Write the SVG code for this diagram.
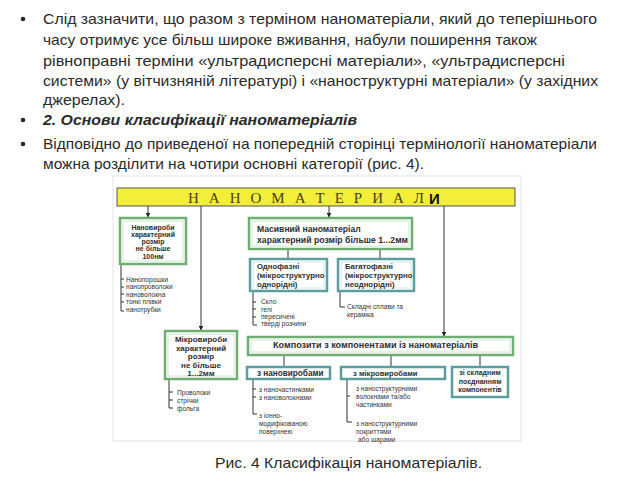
<svg xmlns="http://www.w3.org/2000/svg" width="640" height="480" viewBox="0 0 640 480">
<defs>
<marker id="ah" viewBox="0 0 10 10" refX="9" refY="5" markerWidth="5" markerHeight="5" orient="auto" markerUnits="userSpaceOnUse">
<path d="M0,0 L10,5 L0,10 z" fill="#222"/>
</marker>
<style>
.p{font-family:"Liberation Sans",Arial,sans-serif;font-size:14.5px;fill:#2a2a2a}
.b{font-family:"Liberation Sans",Arial,sans-serif;font-size:14.5px;font-weight:bold;font-style:italic;fill:#2a2a2a}
.g{fill:#ffffff;stroke:#6fae72;stroke-width:2.5}
.gi{fill:none;stroke:#cfe6cf;stroke-width:1}
.t{fill:#ffffff;stroke:#5a9ea0;stroke-width:2.5}
.ti{fill:none;stroke:#d2eaea;stroke-width:1}
.bx{font-family:"Liberation Sans",Arial,sans-serif;font-weight:bold;fill:#2e2e2e}
.sm{font-family:"Liberation Sans",Arial,sans-serif;font-size:6.6px;fill:#333}
.ln{stroke:#333;stroke-width:1;fill:none}
</style>
</defs>
<rect width="640" height="480" fill="#ffffff"/>

<g id="bullets" fill="#2a2a2a">
<circle cx="23" cy="19" r="2.3"/>
<circle cx="23" cy="120" r="2.3"/>
<circle cx="23" cy="144" r="2.3"/>
</g>
<g id="paragraph">
<text class="p" x="43" y="24" textLength="554" lengthAdjust="spacingAndGlyphs">Слід зазначити, що разом з терміном наноматеріали, який до теперішнього</text>
<text class="p" x="43" y="45" textLength="494" lengthAdjust="spacingAndGlyphs">часу отримує усе більш широке вживання, набули поширення також</text>
<text class="p" x="43" y="66" textLength="522" lengthAdjust="spacingAndGlyphs">рівноправні терміни «ультрадисперсні матеріали», «ультрадисперсні</text>
<text class="p" x="43" y="86" textLength="555" lengthAdjust="spacingAndGlyphs">системи» (у вітчизняній літературі) і «наноструктурні матеріали» (у західних</text>
<text class="p" x="43" y="105" textLength="82" lengthAdjust="spacingAndGlyphs">джерелах).</text>
<text class="b" x="43" y="125" textLength="314" lengthAdjust="spacingAndGlyphs">2. Основи класифікації наноматеріалів</text>
<text class="p" x="43" y="149" textLength="554" lengthAdjust="spacingAndGlyphs">Відповідно до приведеної на попередній сторінці термінології наноматеріали</text>
<text class="p" x="43" y="169" textLength="381" lengthAdjust="spacingAndGlyphs">можна розділити на чотири основні категорії (рис. 4).</text>
</g>

<rect id="frame" x="113" y="176" width="408" height="265" fill="none" stroke="#e4e4e4" stroke-width="1"/>

<g id="banner">
<rect x="117" y="188" width="398" height="18" fill="#f2ee3a" stroke="#555" stroke-width="1"/>
<text x="188" y="203" font-family="'Liberation Serif','Times New Roman',serif" font-size="15" fill="#4a4020" textLength="236" lengthAdjust="spacing">Н А Н О М А Т Е Р И А Л</text>
<text x="429" y="204" font-family="'Liberation Sans',Arial,sans-serif" font-size="15" font-weight="bold" fill="#111">И</text>
</g>

<g id="connectors">
<line class="ln" x1="148" y1="206" x2="148" y2="217" marker-end="url(#ah)"/>
<line class="ln" x1="201" y1="206" x2="201" y2="330" marker-end="url(#ah)"/>
<line class="ln" x1="329" y1="206" x2="329" y2="217" marker-end="url(#ah)"/>
<line class="ln" x1="444" y1="206" x2="444" y2="336" marker-end="url(#ah)"/>
<line class="ln" x1="288" y1="249" x2="288" y2="259"/>
<line class="ln" x1="380" y1="249" x2="380" y2="259"/>
<line class="ln" x1="284" y1="355" x2="284" y2="367"/>
<line class="ln" x1="391" y1="355" x2="391" y2="367"/>
<line class="ln" x1="480" y1="355" x2="480" y2="367"/>
<path class="ln" d="M121,264 V311 H124 M121,279 H124 M121,287 H124 M121,294 H124 M121,302 H124"/>
<path class="ln" d="M253,291 V325 H257 M253,302 H256 M253,309 H256 M253,317 H256"/>
<path class="ln" d="M340,291 V307 H345"/>
<path class="ln" d="M169,379 V408 H173 M169,392 H173 M169,400 H173"/>
<path class="ln" d="M253,379 V414 H257 M253,389 H256 M253,397 H256"/>
<path class="ln" d="M347,379 V422 H352 M347,396 H350"/>
</g>

<g id="nanovyroby">
<rect class="g" x="120" y="218" width="66" height="46"/>
<rect class="gi" x="123" y="221" width="60" height="40"/>
<text class="bx" font-size="7" text-anchor="middle" x="153"><tspan x="153" y="229.5">Нановироби</tspan><tspan x="153" y="236.5">характерний</tspan><tspan x="153" y="243.5">розмір</tspan><tspan x="153" y="250.5">не більше</tspan><tspan x="153" y="258.5">100нм</tspan></text>
</g>
<g id="nanovyroby-list">
<text class="sm"><tspan x="126" y="281.5">Нанопорошки</tspan><tspan x="126" y="289">нанопроволоки</tspan><tspan x="126" y="296.5">нановолокна</tspan><tspan x="126" y="304">тонкі плівки</tspan><tspan x="126" y="311.5">нанотрубки</tspan></text>
</g>

<g id="masyvnyi">
<rect class="g" x="249" y="218" width="163" height="31"/>
<rect class="gi" x="252" y="221" width="157" height="25"/>
<text class="bx" font-size="8.6"><tspan x="257" y="232">Масивний наноматеріал</tspan><tspan x="257" y="242.5" textLength="151" lengthAdjust="spacingAndGlyphs">характерний розмір більше 1...2мм</tspan></text>
</g>

<g id="odnofazni">
<rect class="t" x="250" y="259" width="77" height="32"/>
<rect class="ti" x="253" y="262" width="71" height="26"/>
<text class="bx" font-size="7.8" font-weight="normal"><tspan x="257" y="269">Однофазні</tspan><tspan x="257" y="278">(мікроструктурно</tspan><tspan x="257" y="287">однорідні)</tspan></text>
</g>
<g id="odnofazni-list">
<text class="sm"><tspan x="261" y="304">Скло</tspan><tspan x="261" y="311.5">гелі</tspan><tspan x="261" y="318.5">пересичені</tspan><tspan x="261" y="326">тверді розчини</tspan></text>
</g>

<g id="bahatofazni">
<rect class="t" x="338" y="259" width="76" height="32"/>
<rect class="ti" x="341" y="262" width="70" height="26"/>
<text class="bx" font-size="7.8" font-weight="normal"><tspan x="345" y="269">Багатофазні</tspan><tspan x="345" y="278">(мікроструктурно</tspan><tspan x="345" y="287">неоднорідні)</tspan></text>
</g>
<g id="bahatofazni-list">
<text class="sm"><tspan x="347" y="309">Складні сплави та</tspan><tspan x="347" y="316.5">кераміка</tspan></text>
</g>

<g id="mikrovyroby">
<rect class="g" x="165" y="331" width="72" height="48"/>
<rect class="gi" x="168" y="334" width="66" height="42"/>
<text class="bx" font-size="8" text-anchor="middle"><tspan x="201" y="342">Мікровироби</tspan><tspan x="201" y="350.5">характерний</tspan><tspan x="201" y="359">розмір</tspan><tspan x="201" y="367.5">не більше</tspan><tspan x="201" y="376">1...2мм</tspan></text>
</g>
<g id="mikrovyroby-list">
<text class="sm"><tspan x="177" y="394.5">Проволоки</tspan><tspan x="177" y="402.5">стрічки</tspan><tspan x="177" y="410.5">фольга</tspan></text>
</g>

<g id="kompozyty">
<rect class="g" x="248" y="337" width="265" height="18"/>
<rect class="gi" x="251" y="340" width="259" height="12"/>
<text class="bx" font-size="9.4" x="273" y="347.5" textLength="205" lengthAdjust="spacingAndGlyphs">Композити з компонентами із наноматеріалів</text>
</g>

<g id="z-nanovyrobamy">
<rect class="t" x="247" y="367" width="83" height="12"/>
<text class="bx" font-size="8.2" font-weight="normal" x="257" y="376">з нановиробами</text>
</g>
<g id="z-nanovyrobamy-list">
<text class="sm"><tspan x="259" y="391.5">з наночастинками</tspan><tspan x="259" y="399.5">з нановолокнами</tspan><tspan x="259" y="418">з іонно-</tspan><tspan x="259" y="426">модифікованою</tspan><tspan x="259" y="434">поверхнею</tspan></text>
</g>

<g id="z-mikrovyrobamy">
<rect class="t" x="341" y="367" width="104" height="12"/>
<text class="bx" font-size="7.6" font-weight="normal" x="353" y="376">з мікровиробами</text>
</g>
<g id="z-mikrovyrobamy-list">
<text class="sm"><tspan x="356" y="390.5">з наноструктурними</tspan><tspan x="356" y="398.5">волокнами та/або</tspan><tspan x="356" y="407">частинками</tspan><tspan x="356" y="425.5">з наноструктурними</tspan><tspan x="356" y="433.5">покриттями</tspan><tspan x="358" y="442">або шарами</tspan></text>
</g>

<g id="skladnym">
<rect class="t" x="452" y="367" width="56" height="30"/>
<text class="bx" font-size="7" font-weight="normal" text-anchor="middle"><tspan x="480" y="375">зі складним</tspan><tspan x="480" y="383.5">поєднанням</tspan><tspan x="480" y="392">компонентів</tspan></text>
</g>

<text id="caption" x="215" y="468" font-family="'Liberation Sans',Arial,sans-serif" font-size="15" fill="#2a2a2a" textLength="267" lengthAdjust="spacingAndGlyphs">Рис. 4 Класифікація наноматеріалів.</text>
</svg>
